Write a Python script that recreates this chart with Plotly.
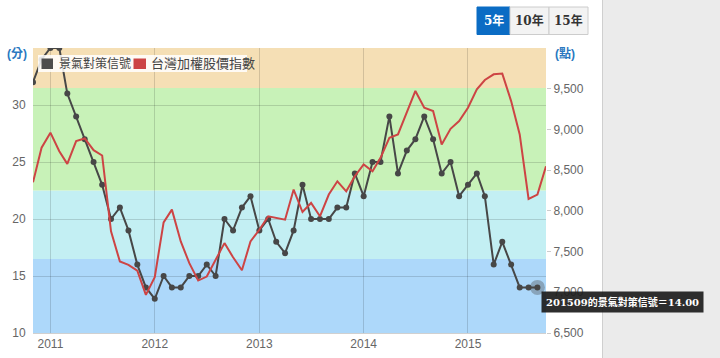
import plotly.graph_objects as go
import pandas as pd

# ---- data ----
months = [d.strftime("%Y-%m-01") for d in pd.date_range("2010-11-01", periods=60, freq="MS")]
signal_scores = [32, 34, 35, 35, 31, 29, 27, 25, 23, 20, 21, 19, 16, 14, 13, 15, 14, 14, 15, 15,
                 16, 15, 20, 19, 21, 22, 19, 20, 18, 17, 19, 23, 20, 20, 20, 21, 21, 24, 22, 25,
                 25, 29, 24, 26, 27, 29, 27, 24, 25, 22, 23, 24, 22, 16, 18, 16, 14, 14, 14]
taiex_index = [8350, 8775, 8960, 8733, 8577, 8856, 8889, 8745, 8680, 7748,
               7378, 7337, 7265, 6968, 7186, 7858, 8015, 7624, 7358, 7144,
               7193, 7399, 7604, 7430, 7270, 7624, 7768, 7933, 7912, 7892,
               8261, 7986, 8097, 7933, 8200, 8363, 8240, 8425, 8569, 8487,
               8651, 8898, 8938, 9206, 9472, 9267, 9226, 8815, 9008, 9102,
               9267, 9493, 9607, 9677, 9686, 9348, 8938, 8147, 8200, 8548]
year_ticks = ["2011-01-01", "2012-01-01", "2013-01-01", "2014-01-01", "2015-01-01"]
year_labels = ["2011", "2012", "2013", "2014", "2015"]
left_ticks = [10, 15, 20, 25, 30, 35]
left_labels = ["10", "15", "20", "25", "30", ""]
right_ticks = [6500, 7000, 7500, 8000, 8500, 9000, 9500]
bands = [(10, 16.5, "#ADD8FA"), (16.5, 22.5, "#C3EFF3"), (22.5, 31.5, "#C8F2B8"), (31.5, 35, "#F5DFB5")]
series_names = ["景氣對策信號", "台灣加權股價指數"]
range_buttons = ["5年", "10年", "15年"]

W, H = 720, 358
L, R, T, B = 33, 546, 48, 333   # plot area in window pixels


def px(x):
    return (x - L) / (R - L)


def py(y):
    return (B - y) / (B - T)


FONT = "Liberation Sans, Arial, Noto Sans CJK TC"
DARK = "#474747"
RED = "#CD4444"

fig = go.Figure()
fig.add_trace(go.Scatter(x=months[:len(signal_scores)], y=signal_scores, mode="lines+markers",
                         line=dict(color=DARK, width=2), marker=dict(size=6, color=DARK),
                         name=series_names[0], showlegend=False, yaxis="y"))
# hover halo on last point
fig.add_trace(go.Scatter(x=[months[len(signal_scores) - 1]], y=[signal_scores[-1]], mode="markers",
                         marker=dict(size=15, color="rgba(70,70,70,0.35)"), showlegend=False,
                         hoverinfo="skip", yaxis="y"))
fig.add_trace(go.Scatter(x=months, y=taiex_index, mode="lines",
                         line=dict(color=RED, width=2),
                         name=series_names[1], showlegend=False, yaxis="y2"))

shapes = []
for lo, hi, c in bands:
    shapes.append(dict(type="rect", xref="paper", yref="y", x0=0, x1=1, y0=lo, y1=hi,
                       fillcolor=c, line=dict(width=0), layer="below"))
# right gray panel
shapes.append(dict(type="rect", xref="paper", yref="paper", x0=px(603), x1=px(725), y0=py(-5), y1=py(365),
                   fillcolor="#EBEBEB", line=dict(width=0), layer="below"))
shapes.append(dict(type="line", xref="paper", yref="paper", x0=px(602.5), x1=px(602.5), y0=py(-5), y1=py(365),
                   line=dict(color="#CFCFCF", width=1), layer="below"))
# legend box
shapes.append(dict(type="rect", xref="paper", yref="paper", x0=px(38), x1=px(247), y0=py(72), y1=py(55),
                   fillcolor="rgba(255,255,255,0.85)", line=dict(width=0), layer="above"))
shapes.append(dict(type="rect", xref="paper", yref="paper", x0=px(41.5), x1=px(53), y0=py(69), y1=py(58.5),
                   fillcolor="#4D4D4D", line=dict(width=0), layer="above"))
shapes.append(dict(type="rect", xref="paper", yref="paper", x0=px(133.5), x1=px(146), y0=py(69), y1=py(58.5),
                   fillcolor="#CC4444", line=dict(width=0), layer="above"))
# buttons
btn_x = [(477, 510), (510, 549), (549, 588)]
for i, (x0, x1) in enumerate(btn_x):
    active = i == 0
    shapes.append(dict(type="rect", xref="paper", yref="paper", x0=px(x0), x1=px(x1), y0=py(34.5), y1=py(7),
                       fillcolor="#0B6CC4" if active else "#F3F3F3",
                       line=dict(color="#0B6CC4" if active else "#CCCCCC", width=1), layer="above"))

annotations = [
    dict(xref="paper", yref="paper", x=px(56.5), y=py(63.5), xanchor="left", yanchor="middle",
         text=series_names[0], showarrow=False, font=dict(size=12, color="#444", family=FONT)),
    dict(xref="paper", yref="paper", x=px(149), y=py(63.5), xanchor="left", yanchor="middle",
         text=series_names[1], showarrow=False, font=dict(size=13, color="#444", family=FONT)),
    dict(xref="paper", yref="paper", x=px(29), y=py(54), xanchor="right", yanchor="middle",
         text="<b>(分)</b>", showarrow=False, font=dict(size=12, color="#2A78C0", family=FONT)),
    dict(xref="paper", yref="paper", x=px(553), y=py(54), xanchor="left", yanchor="middle",
         text="<b>(點)</b>", showarrow=False, font=dict(size=12, color="#2A78C0", family=FONT)),
    dict(xref="paper", yref="paper", x=px(541), y=py(302), xanchor="left", yanchor="middle",
         text="<b>%s的%s＝%.2f</b>" % (months[len(signal_scores) - 1][:7].replace("-", ""), series_names[0], signal_scores[-1]),
         showarrow=False, bgcolor="rgba(28,28,28,0.92)", borderpad=4,
         font=dict(size=10, color="white", family="DejaVu Serif, Noto Sans CJK TC")),
]
for i, (x0, x1) in enumerate(btn_x):
    annotations.append(dict(xref="paper", yref="paper", x=px((x0 + x1) / 2), y=py(20.5), xanchor="center",
                            yanchor="middle", text="<b>%s</b>" % range_buttons[i], showarrow=False,
                            font=dict(size=12, color="white" if i == 0 else "#333",
                                      family="DejaVu Serif, Noto Sans CJK TC")))

fig.update_layout(
    width=W, height=H,
    margin=dict(l=L, r=W - R, t=T, b=H - B, pad=0, autoexpand=False),
    paper_bgcolor="white", plot_bgcolor="white",
    showlegend=False,
    shapes=shapes, annotations=annotations,
    xaxis=dict(type="date", range=["2010-11-01", "2015-10-01"], tickvals=year_ticks, ticktext=year_labels,
               showgrid=True, gridcolor="rgba(0,0,0,0.14)", gridwidth=1, showline=True, linecolor="#D0D0D0",
               ticks="", tickfont=dict(size=12, color="#666", family=FONT), zeroline=False, automargin=False),
    yaxis=dict(range=[10, 35], tickvals=left_ticks, ticktext=left_labels, showgrid=True,
               gridcolor="rgba(0,0,0,0.14)", gridwidth=1, zeroline=False, ticks="outside", ticklen=4,
               tickcolor="rgba(0,0,0,0)", tickfont=dict(size=12, color="#666", family=FONT), automargin=False),
    yaxis2=dict(range=[6500, 10000], tickvals=right_ticks, tickformat=",", overlaying="y", side="right",
                showgrid=False, zeroline=False, ticks="outside", ticklen=4, tickcolor="#CCCCCC",
                tickfont=dict(size=12, color="#666", family=FONT), automargin=False),
)

fig.write_html("out.html", config={"displayModeBar": False},
               post_script="document.body.style.margin='0';document.body.style.overflow='hidden';")
